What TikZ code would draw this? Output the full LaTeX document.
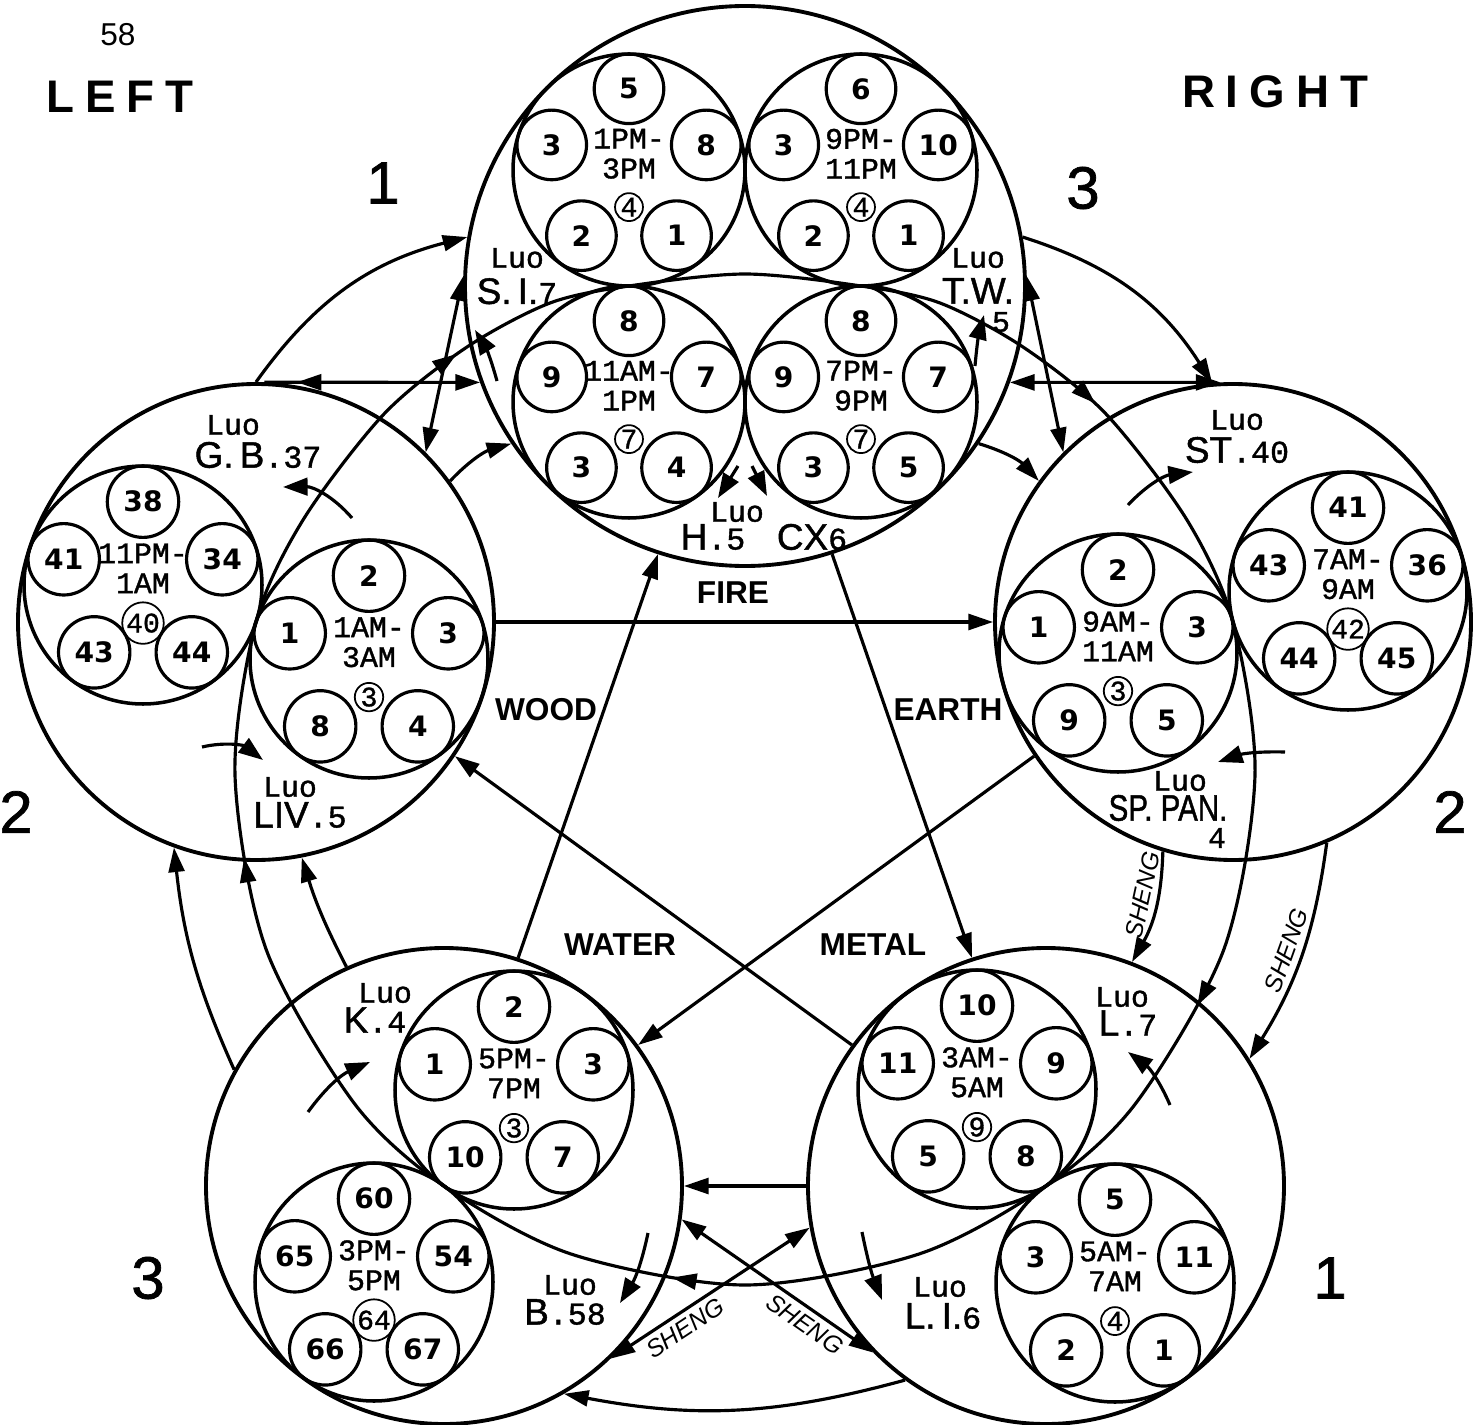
\documentclass[tikz,border=0pt]{standalone}
\usepackage{fontspec}
\setmainfont{Liberation Sans}
\newfontfamily\monofont[FakeBold=1.2]{Liberation Mono}
\newfontfamily\numfont{DejaVu Sans}
\newfontfamily\lblfont[FakeBold=1.2]{Liberation Sans}
\usetikzlibrary{arrows.meta, positioning, decorations.markings}

\newcommand{\luonum}[1]{{\monofont\fontsize{9}{9}\selectfont #1}}

% meridian circle: name, centre, radius, hours, circled point
\newcommand{\meridian}[5]{%
  \def\mrad{#3}%
  \node[merid, minimum size=0.2mm*#3] (#1) at (#2) {};
  \node[hours] (#1-h) at ([shift={(0,-0.14*#3)}]#1.center) {#4};
  \node[cnum] (#1-c) at ([shift={(0,0.32*#3)}]#1.center) {#5};
}
% its five points: top, left, right, lower left, lower right
\newcommand{\acupoints}[6]{%
  \node[accu, minimum size=0.06mm*\mrad] (#1-1) at ([shift={(0,-0.7*\mrad)}]#1.center) {#2};
  \node[accu, minimum size=0.06mm*\mrad] (#1-2) at ([shift={(-0.666*\mrad,-0.216*\mrad)}]#1.center) {#3};
  \node[accu, minimum size=0.06mm*\mrad] (#1-3) at ([shift={(0.666*\mrad,-0.216*\mrad)}]#1.center) {#4};
  \node[accu, minimum size=0.06mm*\mrad] (#1-4) at ([shift={(-0.41*\mrad,0.566*\mrad)}]#1.center) {#5};
  \node[accu, minimum size=0.06mm*\mrad] (#1-5) at ([shift={(0.41*\mrad,0.566*\mrad)}]#1.center) {#6};
}

\begin{document}
\begin{tikzpicture}[x=0.1mm, y=-0.1mm,
    line width=0.9pt,
    bigc/.style={circle, draw, line width=1.1pt, inner sep=0pt, minimum size=47.6mm},
    merid/.style={circle, draw, line width=1pt, inner sep=0pt},
    accu/.style={circle, draw, line width=0.9pt, inner sep=0pt,
        font=\numfont\bfseries\fontsize{8}{8}\selectfont},
    hours/.style={align=center, inner sep=0pt,
        font=\monofont\fontsize{8.5}{8.5}\selectfont},
    cnum/.style={circle, draw, line width=0.5pt, inner sep=0.3pt, minimum size=2.6mm,
        font=\monofont\fontsize{8}{8}\selectfont},
    luo/.style={inner sep=0pt, font=\monofont\fontsize{8.5}{8.5}\selectfont},
    lbl/.style={inner sep=0pt, font=\lblfont\fontsize{10.5}{10.5}\selectfont},
    elem/.style={inner sep=0pt, font=\bfseries\fontsize{9}{9}\selectfont},
    sidelbl/.style={inner sep=0pt, font=\bfseries\fontsize{13}{13}\selectfont\addfontfeature{LetterSpace=24}},
    bignum/.style={inner sep=0pt, font=\lblfont\fontsize{17}{17}\selectfont},
    sheng/.style={inner sep=1.5pt, font=\itshape\fontsize{7}{7}\selectfont},
    arrow/.style={-{Triangle[length=7pt,width=4.5pt]}},
    twoway/.style={{Triangle[length=7pt,width=4.5pt]}-{Triangle[length=7pt,width=4.5pt]}},
    luoarrow/.style={-{Triangle[length=7pt,width=5pt]}},
    tipback/.style={postaction={decorate}, decoration={markings,
        mark=at position #1 with {\arrowreversed{Triangle[length=7pt,width=4.5pt]}}}},
    ringarrows/.style={postaction={decorate}, decoration={markings,
        mark=at position 0.075 with {\arrow{Triangle[length=7pt,width=4.5pt]}},
        mark=at position 0.273 with {\arrow{Triangle[length=7pt,width=4.5pt]}},
        mark=at position 0.474 with {\arrow{Triangle[length=7pt,width=4.5pt]}},
        mark=at position 0.655 with {\arrow{Triangle[length=7pt,width=4.5pt]}},
        mark=at position 0.870 with {\arrow{Triangle[length=7pt,width=4.5pt]}}}}
  ]
  \useasboundingbox (0,0) rectangle (1476,1425);

  % --- ELEMENTS ---
  \node[bigc, minimum size=56mm] (fire) at (745,286) {};
  \node[bigc] (wood) at (256,622) {};
  \node[bigc] (earth) at (1233,622) {};
  \node[bigc] (water) at (444,1186) {};
  \node[bigc] (metal) at (1046,1186) {};

  % --- RING THROUGH THE CENTRES ---
  \draw[ringarrows] plot[smooth cycle] coordinates {(earth) (1255,775) (1224,949)
    (1136,1103) (metal) (919,1254) (745,1285) (571,1254) (water) (354,1103)
    (266,949) (235,775) (wood) (303,520) (384,414) (467,347) (550,303)
    (629,286) (745,274) (861,286) (940,303) (1023,347) (1106,414) (1187,520)};

  % --- FIRE ---
  \meridian{si}{629,170}{116}{1PM-\\3PM}{4}
  \acupoints{si}{5}{3}{8}{2}{1}
  \meridian{tw}{861,170}{116}{9PM-\\11PM}{4}
  \acupoints{tw}{6}{3}{10}{2}{1}
  \meridian{ht}{629,402}{116}{11AM-\\1PM}{7}
  \acupoints{ht}{8}{9}{7}{3}{4}
  \meridian{cx}{861,402}{116}{7PM-\\9PM}{7}
  \acupoints{cx}{8}{9}{7}{3}{5}

  % --- WOOD ---
  \meridian{gb}{143,585}{119}{11PM-\\1AM}{40}
  \acupoints{gb}{38}{41}{34}{43}{44}
  \meridian{liv}{369,659}{119}{1AM-\\3AM}{3}
  \acupoints{liv}{2}{1}{3}{8}{4}

  % --- EARTH ---
  \meridian{sp}{1118,653}{119}{9AM-\\11AM}{3}
  \acupoints{sp}{2}{1}{3}{9}{5}
  \meridian{st}{1348,591}{119}{7AM-\\9AM}{42}
  \acupoints{st}{41}{43}{36}{44}{45}

  % --- WATER ---
  \meridian{kd}{514,1090}{119}{5PM-\\7PM}{3}
  \acupoints{kd}{2}{1}{3}{10}{7}
  \meridian{bd}{374,1282}{119}{3PM-\\5PM}{64}
  \acupoints{bd}{60}{65}{54}{66}{67}

  % --- METAL ---
  \meridian{lu}{977,1089}{119}{3AM-\\5AM}{9}
  \acupoints{lu}{10}{11}{9}{5}{8}
  \meridian{li}{1115,1283}{119}{5AM-\\7AM}{4}
  \acupoints{li}{5}{3}{11}{2}{1}

  % --- LUO LABELS ---
  \node[luo] (si-luo) at (517,258) {Luo};
  \node[lbl, below=2pt of si-luo] (si-lbl) {S.\,I.\luonum{7}};
  \node[luo] (tw-luo) at (978,258) {Luo};
  \node[lbl, below=2pt of tw-luo] (tw-lbl) {T.W.};
  \node[luo] (tw-num) at (1001,322) {5};
  \node[luo] (hc-luo) at (737,512) {Luo};
  \node[lbl] (ht-lbl) at (713,537) {H\luonum{.5}};
  \node[lbl] (cx-lbl) at (812,537) {CX\luonum{6}};
  \node[luo] (gb-luo) at (233,425) {Luo};
  \node[lbl] (gb-lbl) at (258,455) {G.\,B\luonum{.37}};
  \node[luo] (liv-luo) at (290,787) {Luo};
  \node[lbl] (liv-lbl) at (300,815) {LIV\luonum{.5}};
  \node[luo] (st-luo) at (1237,420) {Luo};
  \node[lbl] (st-lbl) at (1237,450) {ST\luonum{.40}};
  \node[luo] (sp-luo) at (1180,781) {Luo};
  \node[lbl] (sp-lbl) at (1168,808) {\addfontfeature{FakeStretch=0.8}SP. PAN.};
  \node[luo] (sp-num) at (1217,838) {4};
  \node[luo] (kd-luo) at (385,993) {Luo};
  \node[lbl] (kd-lbl) at (375,1020) {K\luonum{.4}};
  \node[luo] (bd-luo) at (570,1285) {Luo};
  \node[lbl] (bd-lbl) at (565,1312) {B\luonum{.58}};
  \node[luo] (lu-luo) at (1122,997) {Luo};
  \node[lbl] (lu-lbl) at (1128,1023) {L\luonum{.7}};
  \node[luo] (li-luo) at (940,1287) {Luo};
  \node[lbl] (li-lbl) at (943,1316) {L.\,I.\luonum{6}};

  % --- LUO TURNS ---
  \draw[luoarrow] (497,381) to[bend right=8] (475,330);
  \draw[luoarrow] (975,366) to[bend left=5] (984,315);
  \draw[luoarrow] (738,466) -- (718,498);
  \draw[luoarrow] (752,466) -- (767,496);
  \draw[luoarrow] (352,518) to[bend right=25] (283,487);
  \draw[luoarrow] (202,747) to[bend left=25] (263,760);
  \draw[luoarrow] (1128,505) to[bend left=20] (1193,472);
  \draw[luoarrow] (1285,752) to[bend right=10] (1218,762);
  \draw[luoarrow] (308,1112) to[bend left=15] (370,1062);
  \draw[luoarrow] (648,1233) to[bend left=10] (620,1303);
  \draw[luoarrow] (1170,1105) to[bend right=15] (1128,1052);
  \draw[luoarrow] (862,1232) to[bend right=5] (882,1300);

  % --- PENTAGRAM ---
  \draw[arrow] (wood.0) -- (earth.180);
  \draw[arrow] (water.72) -- (fire.252);
  \draw[arrow] (fire.288) -- (metal.108);
  \draw[arrow] (earth.214) -- (water.36);
  \draw[arrow] (metal.144) -- (wood.326);
  \node[elem] (fire-lbl) at (733,593) {FIRE};
  \node[elem] (wood-lbl) at (546,710) {WOOD};
  \node[elem] (earth-lbl) at (948,710) {EARTH};
  \node[elem] (water-lbl) at (620,945) {WATER};
  \node[elem] (metal-lbl) at (873,945) {METAL};

  % --- WOOD / FIRE ---
  \draw[arrow] (wood.90) to[bend left=20] (fire.170);
  \draw[twoway] (wood.45) -- (fire.178);
  \draw[arrow, tipback=0.15] (wood.88) -- (fire.200);
  \draw[arrow] (wood.36) to[bend left=15] (fire.214);

  % --- FIRE / EARTH ---
  \draw[arrow] (fire.10) to[bend left=20] (earth.95);
  \draw[twoway] (fire.2) -- (earth.135);
  \draw[twoway] (fire.340) -- (earth.93);
  \draw[arrow] (fire.326) to[bend left=15] (earth.144);

  % --- EARTH / METAL ---
  \draw[arrow] (earth.253) to[bend left=14] node[sheng, sloped, above, pos=0.4] (sheng-a) {SHENG} (metal.69);
  \draw[arrow] (earth.293) to[bend left=12] node[sheng, sloped, above, pos=0.5] (sheng-b) {SHENG} (metal.32);

  % --- METAL / WATER ---
  \draw[arrow] (metal.180) -- (water.0);
  \draw[arrow] (metal.234) to[bend left=13] (water.300);
  \draw[twoway] (water.352) -- node[sheng, sloped, below, pos=0.69] (sheng-c) {SHENG} (metal.224);
  \draw[twoway] (metal.190) -- node[sheng, sloped, below, pos=0.67] (sheng-d) {SHENG} (water.314);

  % --- WATER / WOOD ---
  \draw[arrow] (water.151) to[bend left=9] (wood.250);
  \draw[arrow] (water.114) to[bend left=5] (wood.281);

  % --- PAGE MARKS ---
  \node[inner sep=0pt, font=\fontsize{9}{9}\selectfont] (page) at (118,35) {58};
  \node[sidelbl] (left) at (120,97) {LEFT};
  \node[sidelbl] (right) at (1275,92) {RIGHT};
  \node[bignum] (n-tl) at (383,183) {1};
  \node[bignum] (n-tr) at (1083,188) {3};
  \node[bignum] (n-ml) at (16,812) {2};
  \node[bignum] (n-mr) at (1450,812) {2};
  \node[bignum] (n-bl) at (148,1278) {3};
  \node[bignum] (n-br) at (1330,1278) {1};
\end{tikzpicture}
\end{document}
